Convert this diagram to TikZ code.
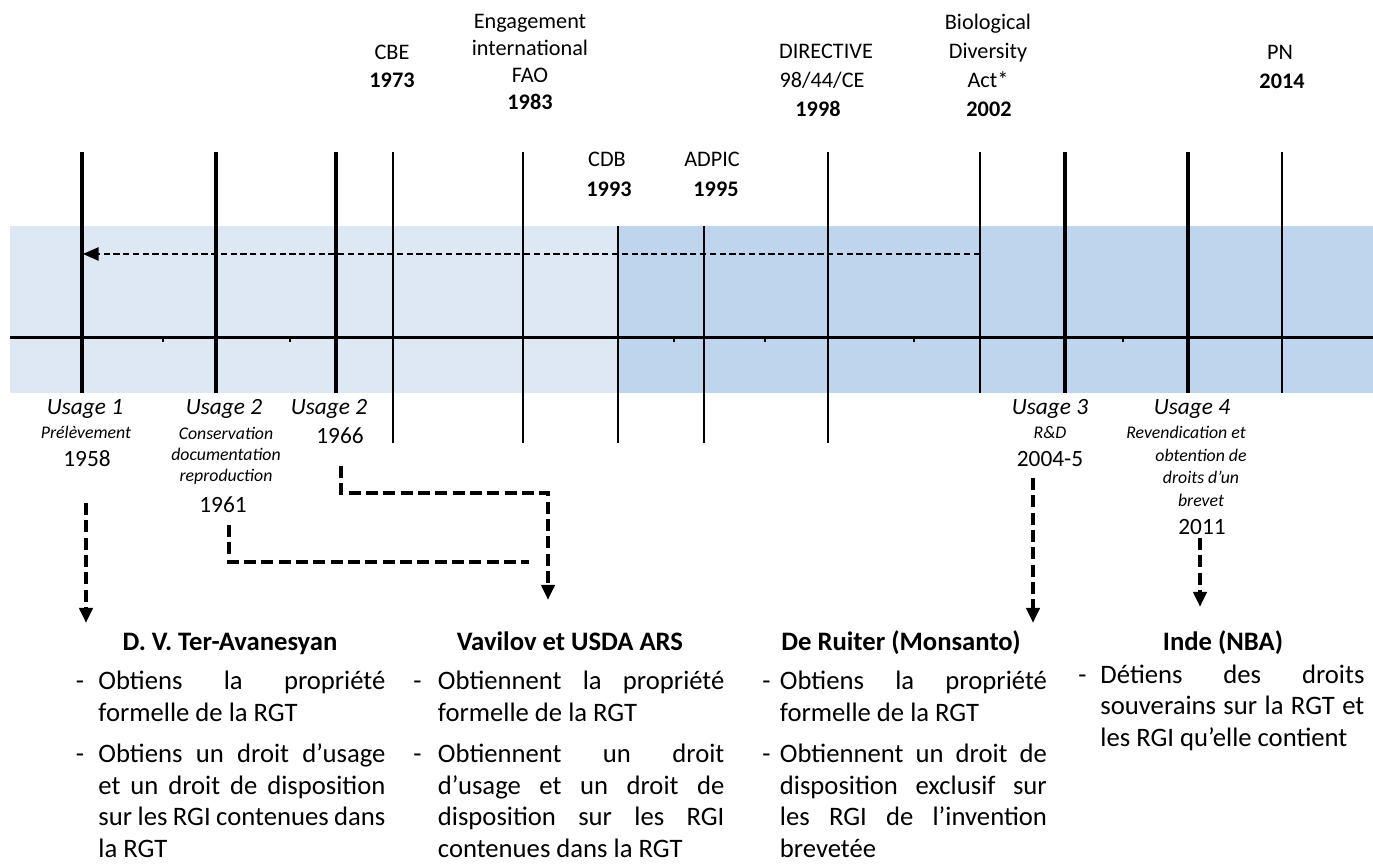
\documentclass[tikz,border=0pt]{standalone}
\usepackage{fontspec}
\setmainfont{Carlito}
\usetikzlibrary{arrows.meta}
\definecolor{bandlight}{HTML}{DEE8F4}
\definecolor{banddark}{HTML}{BED5ED}
\newdimen\px \px=0.45pt
% one line of a bullet column: indent, bullet, width, text
\newcommand\rowj[4]{\hbox{\hbox to #1\px{#2\hss}\makebox[#3\px][s]{#4}}}
\newcommand\rowl[4]{\hbox{\hbox to #1\px{#2\hss}\makebox[#3\px][l]{#4}}}
\begin{document}
\begin{tikzpicture}[x=0.45pt,y=-0.45pt,
  axisline/.style={line width=1.4pt},
  bigtick/.style={line width=1.6pt},
  smalltick/.style={line width=0.8pt},
  minortick/.style={line width=0.7pt},
  backarrow/.style={line width=0.6pt, dash pattern=on 2.8pt off 1.6pt,
    -{Triangle[length=7pt,width=6pt]}},
  usagearrow/.style={line width=1.8pt, dash pattern=on 5.4pt off 2.4pt,
    -{Triangle[length=6.75pt,width=5.85pt]}},
  usageline/.style={line width=1.8pt, dash pattern=on 5.4pt off 2.4pt},
  toplab/.style={inner sep=0, anchor=base, font=\fontsize{10}{12}\selectfont},
  topyear/.style={inner sep=0, anchor=base, font=\fontsize{10}{12}\selectfont\bfseries},
  usagelab/.style={inner sep=0, anchor=base, font=\fontsize{10.5}{12}\selectfont\itshape},
  usagesub/.style={inner sep=0, anchor=base, font=\fontsize{8}{10}\selectfont\itshape},
  usageyear/.style={inner sep=0, anchor=base, font=\fontsize{10.5}{12}\selectfont},
  coltitle/.style={inner sep=0, anchor=base, font=\fontsize{12}{14}\selectfont\bfseries},
  coltext/.style={inner sep=0, anchor=base west, font=\fontsize{12}{14}\selectfont},
]
\useasboundingbox (0,0) rectangle (1373,865);

% periods
\fill[bandlight] (10,226) rectangle (618,393);
\fill[banddark] (618,226) rectangle (1373,393);

% time axis and its minor ticks
\draw[axisline] (10,337.5) -- (1373,337.5);
\foreach \x in {163,290,674,765,914,1123}
  \draw[minortick] (\x,337.5) -- (\x,342);

% usage dates (thick) and legal texts (thin)
\foreach \x in {82,216,336,1065,1188}
  \draw[bigtick] (\x,152) -- (\x,393);
\foreach \x in {393,523,828}
  \draw[smalltick] (\x,152) -- (\x,443);
\foreach \x in {618,704}
  \draw[smalltick] (\x,226) -- (\x,443);
\foreach \x in {980,1282}
  \draw[smalltick] (\x,152) -- (\x,393);

% retroactive reach of the Biological Diversity Act
\coordinate (act) at (980,254);
\coordinate (back) at (83,254);
\draw[backarrow] (act) -- (back);

% legal texts
\node[toplab]  (cbe)   at (392,60)  {CBE};
\node[topyear] (y1973) at (392,88)  {1973};
\node[toplab]  (fao1)  at (530,29)  {Engagement};
\node[toplab]  (fao2)  at (530,56)  {international};
\node[toplab]  (fao3)  at (530,83)  {FAO};
\node[topyear] (y1983) at (530,110) {1983};
\node[toplab]  (cdb)   at (607,167) {CDB};
\node[topyear] (y1993) at (609,197) {1993};
\node[toplab]  (adpic) at (712,167) {ADPIC};
\node[topyear] (y1995) at (716,197) {1995};
\node[toplab]  (dir1)  at (826,59)  {DIRECTIVE};
\node[toplab]  (dir2)  at (822,88)  {98/44/CE};
\node[topyear] (y1998) at (818,117) {1998};
\node[toplab]  (bda1)  at (988,30)  {Biological};
\node[toplab]  (bda2)  at (988,59)  {Diversity};
\node[toplab]  (bda3)  at (988,88)  {Act*};
\node[topyear] (y2002) at (989,117) {2002};
\node[toplab]  (pn)    at (1280,60) {PN};
\node[topyear] (y2014) at (1282,89) {2014};

% usages
\node[usagelab]  (u1)    at (85,415)  {Usage 1};
\node[usagesub]  (u1a)   at (86,439)  {Prélèvement};
\node[usageyear] (y1958) at (87,467)  {1958};
\node[usagelab]  (u2)    at (224,415) {Usage 2};
\node[usagesub]  (u2a)   at (226,440) {Conservation};
\node[usagesub]  (u2b)   at (226,461) {documentation};
\node[usagesub]  (u2c)   at (226,482) {reproduction};
\node[usageyear] (y1961) at (223,513) {1961};
\node[usagelab]  (u2d)   at (329,415) {Usage 2};
\node[usageyear] (y1966) at (340,444) {1966};
\node[usagelab]  (u3)    at (1050,415) {Usage 3};
\node[usagesub]  (u3a)   at (1050,439) {R\&D};
\node[usageyear] (y2004) at (1050,467) {2004-5};
\node[usagelab]  (u4)    at (1192,415) {Usage 4};
\node[usagesub]  (u4a)   at (1186,439) {Revendication et};
\node[usagesub]  (u4b)   at (1201,462) {obtention de};
\node[usagesub]  (u4c)   at (1201,484) {droits d’un};
\node[usagesub]  (u4d)   at (1201,507) {brevet};
\node[usageyear] (y2011) at (1202,535) {2011};

% holders
\node[coltitle] (h1) at (230,651)  {D. V. Ter-Avanesyan};
\node[coltitle] (h2) at (570,651)  {Vavilov et USDA ARS};
\node[coltitle] (h3) at (901,651)  {De Ruiter (Monsanto)};
\node[coltitle] (h4) at (1223,651) {Inde (NBA)};

% links from each usage to its holder
\coordinate (s58) at (86,503);   \coordinate (e58) at (86,623);
\coordinate (s66) at (341,466);  \coordinate (k66) at (548,493);
\coordinate (e66) at (548,600);
\coordinate (s61) at (229,525);  \coordinate (e61) at (529,562);
\coordinate (s04) at (1033,478); \coordinate (e04) at (1033,623);
\coordinate (s11) at (1200,538); \coordinate (e11) at (1200,607);
\draw[usagearrow] (s58) -- (e58);
\draw[usagearrow] (s66) |- (k66) -- (e66);
\draw[usageline]  (s61) |- (e61);
\draw[usagearrow] (s04) -- (e04);
\draw[usagearrow] (s11) -- (e11);

% rights obtained
\node[coltext] (c1) at (75.5,690) {\vtop{\baselineskip=31.5\px \lineskiplimit=-100pt
  \rowj{22.5}{-}{287}{Obtiens la propriété}
  \rowl{22.5}{}{287}{formelle de la RGT}
  \vskip10\px
  \rowj{22.5}{-}{287}{Obtiens un droit d’usage}
  \rowj{22.5}{}{287}{et un droit de disposition}
  \rowj{22.5}{}{287}{sur les RGI contenues dans}
  \rowl{22.5}{}{287}{la RGT}}};
\node[coltext] (c2) at (413,690) {\vtop{\baselineskip=31.5\px \lineskiplimit=-100pt
  \rowj{24.5}{-}{286.5}{Obtiennent la propriété}
  \rowl{24.5}{}{286.5}{formelle de la RGT}
  \vskip10\px
  \rowj{24.5}{-}{286.5}{Obtiennent un droit}
  \rowj{24.5}{}{286.5}{d’usage et un droit de}
  \rowj{24.5}{}{286.5}{disposition sur les RGI}
  \rowl{24.5}{}{286.5}{contenues dans la RGT}}};
\node[coltext] (c3) at (762,690) {\vtop{\baselineskip=31.5\px \lineskiplimit=-100pt
  \rowj{17.5}{-}{267}{Obtiens la propriété}
  \rowl{17.5}{}{267}{formelle de la RGT}
  \vskip10\px
  \rowj{17.5}{-}{267}{Obtiennent un droit de}
  \rowj{17.5}{}{267}{disposition exclusif sur}
  \rowj{17.5}{}{267}{les RGI de l’invention}
  \rowl{17.5}{}{267}{brevetée}}};
\node[coltext] (c4) at (1078,683) {\vtop{\baselineskip=32\px \lineskiplimit=-100pt
  \rowj{22}{-}{264}{Détiens des droits}
  \rowj{22}{}{264}{souverains sur la RGT et}
  \rowl{22}{}{264}{les RGI qu’elle contient}}};
\end{tikzpicture}
\end{document}
